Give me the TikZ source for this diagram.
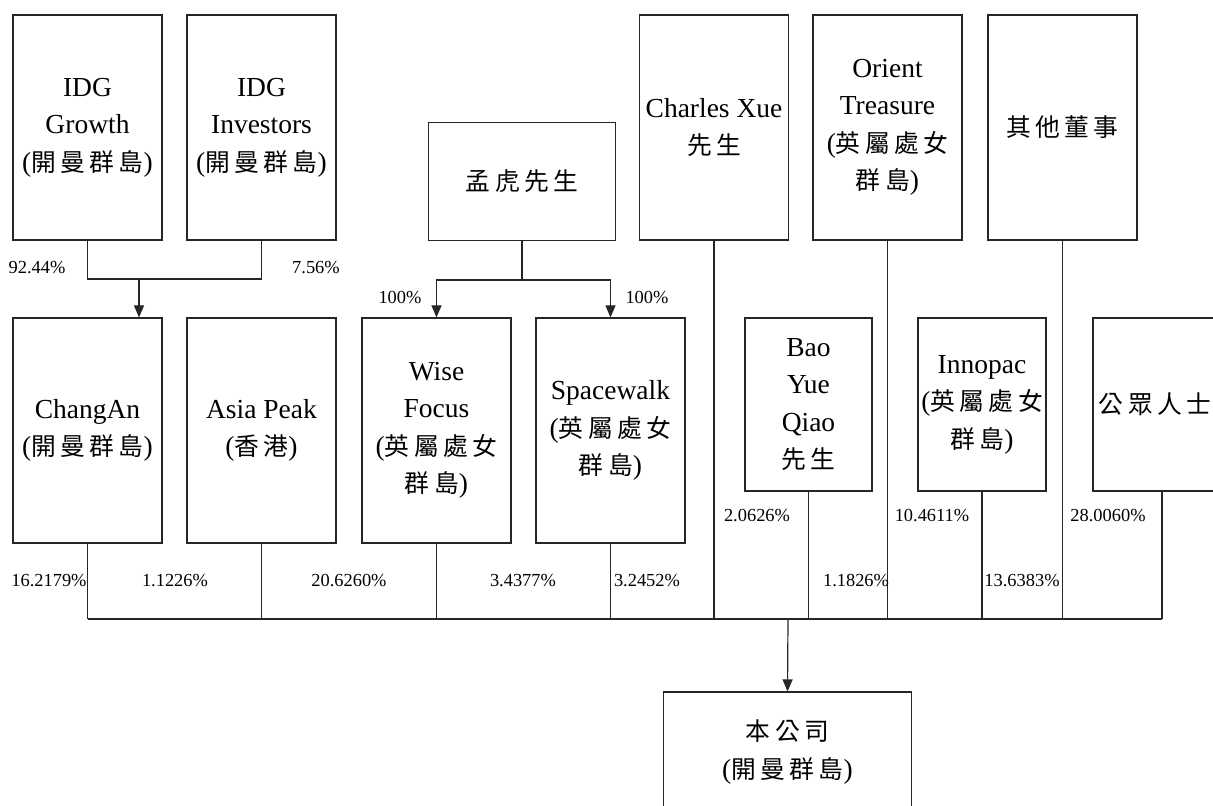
\documentclass[tikz,border=0pt]{standalone}
\usepackage{fontspec}
\setmainfont{Liberation Serif}
\newfontfamily\cjk{Noto Sans CJK TC}[LetterSpace=18,Scale=0.9]
\newcommand{\zh}[1]{{\cjk #1}}
\usetikzlibrary{arrows.meta}

\tikzset{
  box/.style={draw=black!85, line width=0.6pt, inner sep=0pt, align=center,
    minimum width=74.5pt, minimum height=112.5pt,
    font=\fontsize{13.75}{18.75}\selectfont},
  pct/.style={inner sep=0pt, font=\fontsize{9.2}{10}\selectfont},
  arr/.style={-{Triangle[length=6pt,width=5pt]}},
}

\begin{document}
\begin{tikzpicture}[x=0.5pt,y=-0.5pt,line width=0.6pt,draw=black!85]
\clip (0,0) rectangle (1213,806);

%Top row
\node[box] (growth) at (87.5,127.5) {IDG\\Growth\\(\zh{開曼群島})};
\node[box] (investors) at (261.5,127.5) {IDG\\Investors\\(\zh{開曼群島})};
\node[box,minimum width=93.5pt,minimum height=59pt] (menghu) at (522,181.5) {\zh{孟虎先生}};
\node[box] (charles) at (714,127.5) {Charles Xue\\\zh{先生}};
\node[box] (orient) at (887.5,127.5) {Orient\\Treasure\\(\zh{英屬處女}\\\zh{群島})};
\node[box] (others) at (1062.5,127.5) {\zh{其他董事}};

%Middle row
\node[box] (changan) at (87.5,430.5) {ChangAn\\(\zh{開曼群島})};
\node[box] (asiapeak) at (261.5,430.5) {Asia Peak\\(\zh{香港})};
\node[box] (wise) at (436.5,430.5) {Wise\\Focus\\(\zh{英屬處女}\\\zh{群島})};
\node[box] (spacewalk) at (610.5,430.5) {Spacewalk\\(\zh{英屬處女}\\\zh{群島})};
\node[box,minimum width=63.5pt,minimum height=86.5pt] (bao) at (808.5,404.5) {Bao\\Yue\\Qiao\\\zh{先生}};
\node[box,minimum width=64pt,minimum height=86.5pt] (innopac) at (982,404.5) {Innopac\\(\zh{英屬處女}\\\zh{群島})};
\node[box,minimum width=62pt,minimum height=86.5pt] (public) at (1155,404.5) {\zh{公眾人士}};

%Company
\node[box,minimum width=124pt,minimum height=60pt] (company) at (787.5,752) {\zh{本公司}\\(\zh{開曼群島})};

%Junctions
\coordinate (jidg) at (139,279);
\coordinate (jmeng) at (522,280);
\coordinate (jpub) at ([xshift=3.5pt]public.south);
\coordinate (bus) at (788,619);

%IDG to ChangAn
\draw (growth.south) |- (jidg) -| (investors.south);
\draw[arr] (jidg) -- (jidg |- changan.north);

%Meng Hu to Wise Focus and Spacewalk
\draw (menghu.south) -- (jmeng);
\draw[arr] (jmeng) -| (wise.north);
\draw[arr] (jmeng) -| (spacewalk.north);

%Shareholders to the company
\foreach \n in {changan.south,asiapeak.south,wise.south,spacewalk.south,charles.south,bao.south,orient.south,innopac.south,others.south,jpub}
  \draw (\n) -- (\n |- bus);
\draw (changan.south |- bus) -- (jpub |- bus);
\draw[arr] (bus) -- (company.north);

%Percentages
\node[pct] (p1) at (37,268) {92.44\%};
\node[pct] (p2) at (316,268) {7.56\%};
\node[pct] (p3) at (400,298) {100\%};
\node[pct] (p4) at (647,298) {100\%};
\node[pct] (p5) at (49,581) {16.2179\%};
\node[pct] (p6) at (175,581) {1.1226\%};
\node[pct] (p7) at (349,581) {20.6260\%};
\node[pct] (p8) at (523,581) {3.4377\%};
\node[pct] (p9) at (647,581) {3.2452\%};
\node[pct] (p10) at (757,516) {2.0626\%};
\node[pct] (p11) at (856,581) {1.1826\%};
\node[pct] (p12) at (932,516) {10.4611\%};
\node[pct] (p13) at (1022,581) {13.6383\%};
\node[pct] (p14) at (1108,516) {28.0060\%};
\end{tikzpicture}
\end{document}
